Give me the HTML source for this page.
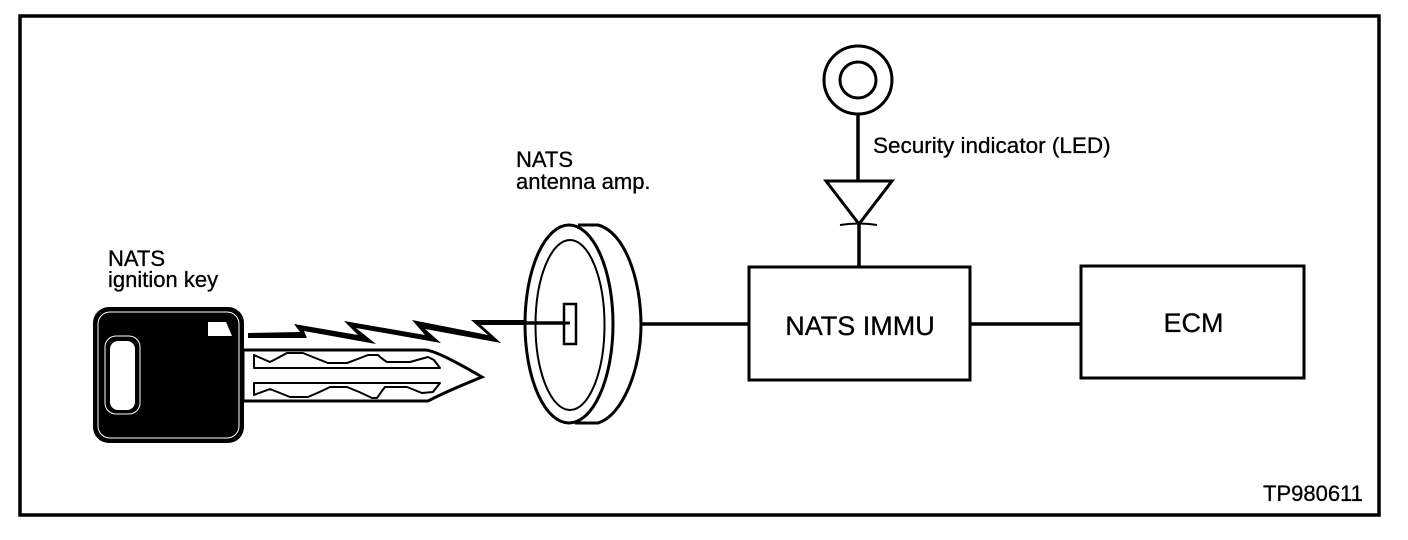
<!DOCTYPE html>
<html><head><meta charset="utf-8"><style>
html,body{margin:0;padding:0;background:#fff;width:1408px;height:540px;overflow:hidden}
svg{display:block}
text{font-family:"Liberation Sans",sans-serif;fill:#000;stroke:#000;stroke-width:.3}
</style></head><body>
<svg width="1408" height="540" viewBox="0 0 1408 540" xmlns="http://www.w3.org/2000/svg">
<rect width="1408" height="540" fill="#fff"/>
<rect x="20" y="16" width="1359" height="499" fill="none" stroke="#000" stroke-width="3.5"/>
<!-- key blade -->
<path d="M243 350H425Q436 350 482 377Q445 392 428 401H243Z" fill="#fff" stroke="#000" stroke-width="3"/>
<path d="M254 355L270 362Q278 358 287 353L303 353Q315 358 328 363L347 363Q358 359 368 355L378 355Q382 359 387 362L410 362L428 357L434 360L440 368H254Z" fill="#fff" stroke="#000" stroke-width="2" stroke-linejoin="round"/>
<path d="M254 383H440L433 392L422 393L407 387L385 387Q381 392 377 398L372 398Q360 392 347 387L330 387Q320 392 308 397L290 397Q280 393 270 389L254 395Z" fill="#fff" stroke="#000" stroke-width="2" stroke-linejoin="round"/>
<!-- key head -->
<rect x="93" y="307" width="151" height="136" rx="16" fill="#000"/>
<rect x="98" y="312" width="141" height="126" rx="12" fill="none" stroke="#fff" stroke-width="1"/>
<rect x="105" y="336" width="35" height="78" rx="11" fill="#000" stroke="#fff" stroke-width="1"/>
<rect x="110" y="341" width="25" height="69" rx="8" fill="#fff"/>
<path d="M208 322H226L232 336H208Z" fill="#fff"/>
<!-- zigzag -->
<path d="M248 333L300 332L294 324L358 335L344 321L425 335L412 320L488 335L471 320H530V325H481L501 343L425 329L441 343L356 328L376 344L304 331L307 338L248 338Z" fill="#000"/>
<!-- disc -->
<path d="M578 225H598C625 232 641 280 641 325C641 370 622 416 598 423H575" fill="#fff" stroke="#000" stroke-width="3"/>
<ellipse cx="569" cy="324" rx="44" ry="99" fill="#fff" stroke="#000" stroke-width="3"/>
<ellipse cx="570" cy="325" rx="34.5" ry="85" fill="none" stroke="#000" stroke-width="2"/>
<path d="M480 323H566" stroke="#000" stroke-width="3.5" fill="none"/>
<rect x="564" y="304" width="12" height="40" fill="#fff" stroke="#000" stroke-width="2.5"/>
<path d="M564 323H570" stroke="#000" stroke-width="3"/>
<!-- connectors -->
<path d="M642 324H749M970 324H1081" stroke="#000" stroke-width="3.5"/>
<path d="M858 113V181M859 224V267" stroke="#000" stroke-width="3.5"/>
<!-- LED -->
<circle cx="858" cy="80" r="34" fill="#fff" stroke="#000" stroke-width="3"/>
<circle cx="858" cy="80" r="18" fill="none" stroke="#000" stroke-width="3"/>
<path d="M826 181H892L859 224Z" fill="#fff" stroke="#000" stroke-width="3"/>
<path d="M840 225Q859 222 877 225" fill="none" stroke="#000" stroke-width="2"/>
<!-- boxes -->
<rect x="749" y="267" width="221" height="113" fill="#fff" stroke="#000" stroke-width="3"/>
<rect x="1081" y="266" width="223" height="112" fill="#fff" stroke="#000" stroke-width="3"/>
<!-- labels -->
<text x="108" y="266" font-size="22">NATS</text>
<text x="108" y="287" font-size="22">ignition key</text>
<text x="516" y="167" font-size="22">NATS</text>
<text x="516" y="189" font-size="22">antenna amp.</text>
<text x="873" y="153" font-size="22.5">Security indicator (LED)</text>
<text x="860" y="335" font-size="27" text-anchor="middle">NATS IMMU</text>
<text x="1193.5" y="332" font-size="27" text-anchor="middle">ECM</text>
<text x="1263" y="501" font-size="22">TP980611</text>
</svg>
</body></html>
